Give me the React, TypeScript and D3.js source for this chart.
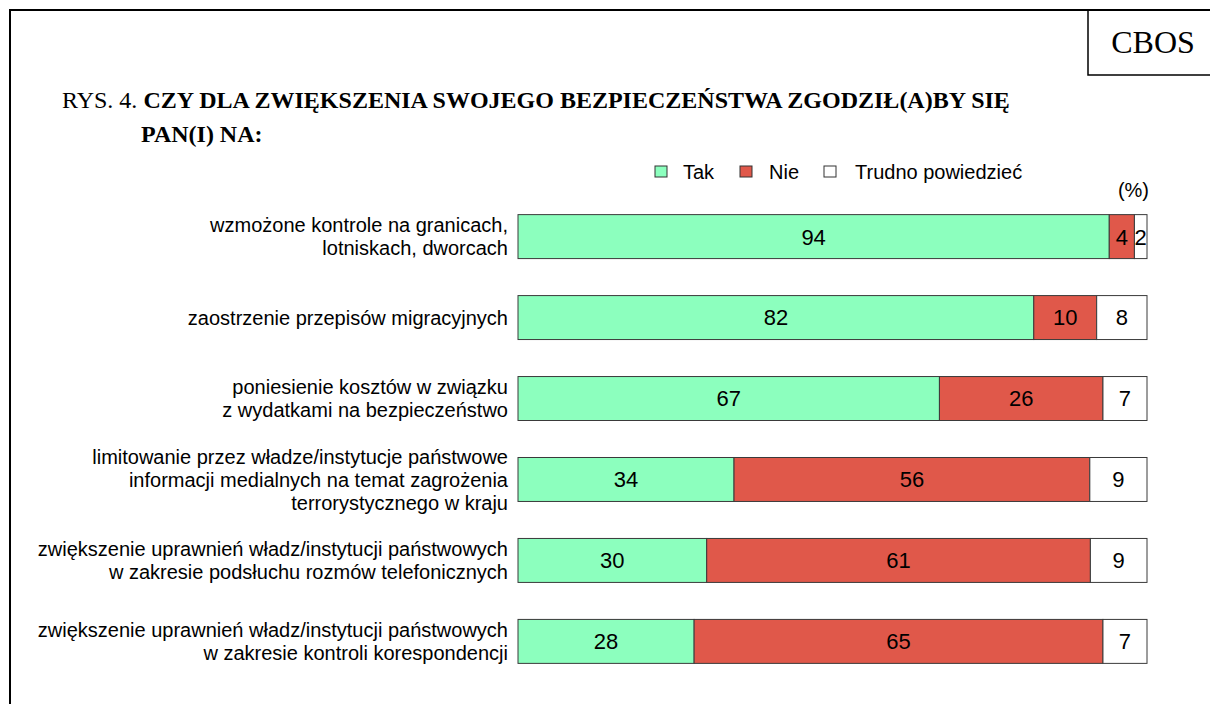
import React from "react";
import * as d3 from "d3";

const categories: string[][] = [
  ["wzmożone kontrole na granicach,", "lotniskach, dworcach"],
  ["zaostrzenie przepisów migracyjnych"],
  ["poniesienie kosztów w związku", "z wydatkami na bezpieczeństwo"],
  ["limitowanie przez władze/instytucje państwowe", "informacji medialnych na temat zagrożenia", "terrorystycznego w kraju"],
  ["zwiększenie uprawnień władz/instytucji państwowych", "w zakresie podsłuchu rozmów telefonicznych"],
  ["zwiększenie uprawnień władz/instytucji państwowych", "w zakresie kontroli korespondencji"],
];
const tak = [94, 82, 67, 34, 30, 28];
const nie = [4, 10, 26, 56, 61, 65];
const trudno = [2, 8, 7, 9, 9, 7];
const seriesNames = ["Tak", "Nie", "Trudno powiedzieć"];
const seriesColors = ["#8CFFBE", "#E0584A", "#FFFFFF"];

export default function App() {
  const W = 1210, H = 704;
  const x = d3.scaleLinear().domain([0, 1]).range([518, 1147]);
  const y = d3.scaleBand<number>().domain(d3.range(categories.length)).range([196, 682]).paddingInner(0.457).paddingOuter(0.23);
  const rows = categories.map((c, i) => {
    const vals = [tak[i], nie[i], trudno[i]];
    const total = d3.sum(vals);
    let acc = 0;
    const segs = vals.map((v, k) => {
      const s = { x0: acc / total, x1: (acc + v) / total, v, k };
      acc += v;
      return s;
    });
    return { c, segs };
  });
  const bh = y.bandwidth();
  const lineH = 23;
  const sans = "'Liberation Sans', Arial, sans-serif";
  const serif = "'Liberation Serif', 'Times New Roman', serif";
  return (
    <svg width={W} height={H} style={{ position: "absolute", left: 0, top: 0, background: "#fff" }}>
      <rect x={0} y={0} width={W} height={H} fill="#fff" />
      <path d={`M10,${H} L10,10 L${W + 5},10`} fill="none" stroke="#000" strokeWidth={2} />
      <path d={`M1088,10 L1088,75 L${W + 5},75`} fill="none" stroke="#000" strokeWidth={1.5} />
      <text x={1153} y={53} textAnchor="middle" fontFamily={serif} fontSize={32}>CBOS</text>
      <text x={62} y={108} fontFamily={serif} fontSize={24}>
        <tspan>RYS. 4. </tspan>
        <tspan fontWeight="bold">CZY DLA ZWIĘKSZENIA SWOJEGO BEZPIECZEŃSTWA ZGODZIŁ(A)BY SIĘ</tspan>
      </text>
      <text x={141} y={142} fontFamily={serif} fontSize={24} fontWeight="bold">PAN(I) NA:</text>
      {[{ sx: 655, tx: 683 }, { sx: 740, tx: 769 }, { sx: 824, tx: 855 }].map((p, k) => (
        <g key={k}>
          <rect x={p.sx} y={166} width={12} height={11} fill={seriesColors[k]} stroke="#333" strokeWidth={1} />
          <text x={p.tx} y={179} fontFamily={sans} fontSize={20}>{seriesNames[k]}</text>
        </g>
      ))}
      <text x={1149} y={197} textAnchor="end" fontFamily={sans} fontSize={20}>(%)</text>
      {rows.map((r, i) => {
        const y0 = y(i)!;
        const cy = y0 + bh / 2;
        return (
          <g key={i}>
            {r.segs.map((s) => (
              <g key={s.k}>
                <rect x={x(s.x0)} y={y0} width={x(s.x1) - x(s.x0)} height={bh} fill={seriesColors[s.k]} stroke="#3a3a3a" strokeWidth={1} />
                <text x={(x(s.x0) + x(s.x1)) / 2} y={cy} dy="0.36em" textAnchor="middle" fontFamily={sans} fontSize={22}>{s.v}</text>
              </g>
            ))}
            {r.c.map((line, j) => (
              <text key={j} x={508} y={cy + (j - (r.c.length - 1) / 2) * lineH} dy="0.36em" textAnchor="end" fontFamily={sans} fontSize={20}>{line}</text>
            ))}
          </g>
        );
      })}
    </svg>
  );
}
